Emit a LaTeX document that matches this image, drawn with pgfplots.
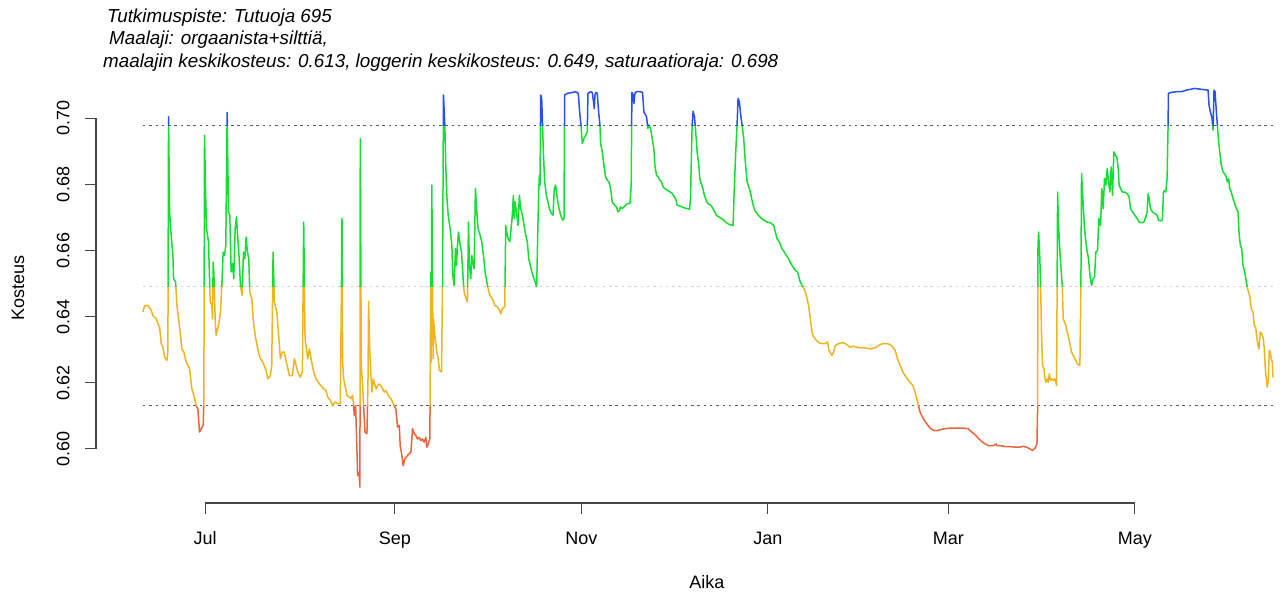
\documentclass[border=0pt]{standalone}
\usepackage{fontspec}
\setmainfont{Liberation Sans}
\usepackage{pgfplots}
\pgfplotsset{compat=1.18}
\usepackage{pgfplotstable}
\definecolor{cred}{RGB}{232,100,60}
\definecolor{corange}{RGB}{240,180,30}
\definecolor{cgreen}{RGB}{20,222,50}
\definecolor{cblue}{RGB}{40,80,240}
\definecolor{axgray}{RGB}{70,70,70}

\pgfplotstableread{
d v
-20.35 0.6414
-19.81 0.6432
-18.72 0.6434
-17.63 0.6419
-17.09 0.6403
-16.00 0.6393
-15.45 0.6378
-14.91 0.6368
-14.36 0.6318
-13.82 0.6307
-13.28 0.6277
-12.51 0.6267
-12.19 0.6292
-11.97 0.7005
-11.64 0.6717
-11.10 0.6646
-10.55 0.6585
-10.34 0.6515
-9.68 0.6505
-9.25 0.6434
-8.70 0.6393
-8.16 0.6353
-7.62 0.6302
-6.96 0.6292
-6.20 0.6262
-5.11 0.6242
-4.35 0.6181
-3.70 0.6161
-2.94 0.6130
-2.39 0.6120
-1.85 0.6050
-1.30 0.6060
-0.65 0.6070
-0.43 0.6141
-0.21 0.6949
0.11 0.6788
0.44 0.6666
1.09 0.6626
1.64 0.6444
2.18 0.6434
2.40 0.6393
2.62 0.6565
2.83 0.6535
3.27 0.6393
3.60 0.6343
4.36 0.6373
5.01 0.6414
5.45 0.6494
5.88 0.6595
6.32 0.6585
6.75 0.6616
7.19 0.7018
7.62 0.6717
8.06 0.6707
8.49 0.6535
8.93 0.6560
9.36 0.6515
9.80 0.6666
10.23 0.6702
10.67 0.6636
11.11 0.6575
11.54 0.6494
12.08 0.6464
12.52 0.6595
12.96 0.6575
13.39 0.6641
13.83 0.6595
14.26 0.6575
14.59 0.6474
15.24 0.6454
15.79 0.6383
16.55 0.6333
17.20 0.6302
17.85 0.6277
18.83 0.6262
19.92 0.6237
20.47 0.6211
21.34 0.6221
21.77 0.6252
22.21 0.6595
22.64 0.6444
23.40 0.6414
23.95 0.6353
24.60 0.6272
25.15 0.6292
25.91 0.6292
26.56 0.6262
27.54 0.6221
28.52 0.6221
29.17 0.6272
29.61 0.6257
30.26 0.6232
31.13 0.6216
31.79 0.6232
32.22 0.6686
32.66 0.6333
33.53 0.6272
34.07 0.6302
34.62 0.6272
35.49 0.6232
36.25 0.6211
37.34 0.6196
38.75 0.6181
39.51 0.6176
40.06 0.6156
40.93 0.6146
41.69 0.6130
42.45 0.6141
43.32 0.6136
44.19 0.6136
44.63 0.6555
44.74 0.6697
44.95 0.6262
45.28 0.6211
45.72 0.6191
46.37 0.6161
47.13 0.6156
47.68 0.6151
48.22 0.6161
48.55 0.6130
48.76 0.6100
49.20 0.6130
49.53 0.6029
49.85 0.5918
50.29 0.5928
50.61 0.5883
50.72 0.6939
51.05 0.6252
51.49 0.6191
51.81 0.6130
52.25 0.6050
52.90 0.6045
53.23 0.6191
53.44 0.6446
53.77 0.6312
54.21 0.6221
54.53 0.6171
54.97 0.6211
55.51 0.6191
55.95 0.6181
56.38 0.6191
56.93 0.6196
57.47 0.6191
58.02 0.6181
58.56 0.6171
59.10 0.6176
59.65 0.6166
60.19 0.6156
60.74 0.6151
61.28 0.6141
61.83 0.6130
62.37 0.6120
62.91 0.6065
63.46 0.6070
63.78 0.6009
64.33 0.5979
64.76 0.5948
65.31 0.5969
66.18 0.5979
67.27 0.5989
67.81 0.6060
68.36 0.6045
68.90 0.6040
69.44 0.6029
69.99 0.6034
70.53 0.6024
71.08 0.6029
71.62 0.6019
72.17 0.6034
72.49 0.6004
72.93 0.6014
73.47 0.6029
73.80 0.6535
73.91 0.6262
74.01 0.6535
74.12 0.6798
74.34 0.6494
74.56 0.6272
74.67 0.6393
75.10 0.6343
75.76 0.6292
76.19 0.6272
76.63 0.6237
77.28 0.6232
77.61 0.6494
77.93 0.7071
78.37 0.6980
78.70 0.6848
79.02 0.6767
79.46 0.6707
80.11 0.6666
80.66 0.6616
80.98 0.6525
81.42 0.6494
81.85 0.6606
82.18 0.6555
82.51 0.6616
82.83 0.6656
83.38 0.6616
83.81 0.6595
84.36 0.6515
84.68 0.6474
85.34 0.6454
85.77 0.6444
86.10 0.6686
86.42 0.6555
86.86 0.6515
87.19 0.6585
87.51 0.6565
87.95 0.6545
88.38 0.6788
88.82 0.6717
89.25 0.6666
89.91 0.6646
90.45 0.6626
91.00 0.6585
91.54 0.6535
92.30 0.6494
93.06 0.6464
93.93 0.6454
94.70 0.6434
95.57 0.6429
96.22 0.6419
96.66 0.6408
97.20 0.6424
97.96 0.6429
98.29 0.6676
98.61 0.6656
99.05 0.6636
99.59 0.6626
100.36 0.6697
100.79 0.6767
101.01 0.6697
101.33 0.6747
101.77 0.6717
102.31 0.6676
102.75 0.6767
103.19 0.6727
103.73 0.6707
104.27 0.6676
104.82 0.6646
105.36 0.6626
105.80 0.6575
106.45 0.6550
106.99 0.6530
107.54 0.6515
108.08 0.6499
108.41 0.6491
108.74 0.6646
109.06 0.6777
109.28 0.6828
109.50 0.6798
109.72 0.7071
110.04 0.7061
110.26 0.7000
110.59 0.6899
111.02 0.6808
111.57 0.6767
112.11 0.6747
112.55 0.6727
113.20 0.6712
113.74 0.6707
114.18 0.6788
114.61 0.6798
115.16 0.6757
115.70 0.6727
116.25 0.6707
116.90 0.6692
117.34 0.6697
117.55 0.7071
118.42 0.7076
120.06 0.7079
121.14 0.7081
122.02 0.7076
122.45 0.7020
122.89 0.6980
123.32 0.6924
123.87 0.6939
124.41 0.6949
124.95 0.6959
125.17 0.7076
126.04 0.7081
126.59 0.7079
126.91 0.7056
127.24 0.7030
127.46 0.7071
127.78 0.7079
128.22 0.7076
128.66 0.7020
129.09 0.6980
129.31 0.6924
129.85 0.6899
130.40 0.6858
130.94 0.6823
131.49 0.6813
132.03 0.6808
132.57 0.6788
133.12 0.6747
133.88 0.6737
134.53 0.6732
134.97 0.6717
135.51 0.6722
135.84 0.6732
136.38 0.6727
136.93 0.6732
137.47 0.6737
138.02 0.6742
138.89 0.6742
139.32 0.6798
139.54 0.7079
139.98 0.7071
140.19 0.7045
140.52 0.7076
141.06 0.7081
142.37 0.7081
143.02 0.7079
143.46 0.7020
143.78 0.7015
144.33 0.7005
144.76 0.6970
145.09 0.6980
145.63 0.6970
146.18 0.6939
146.72 0.6909
147.05 0.6858
147.59 0.6828
148.14 0.6823
148.68 0.6813
149.23 0.6808
149.77 0.6793
150.21 0.6788
151.08 0.6783
151.95 0.6778
152.82 0.6772
153.47 0.6762
154.02 0.6752
154.34 0.6737
155.21 0.6735
155.97 0.6732
156.74 0.6729
157.61 0.6727
158.37 0.6725
158.70 0.6757
158.91 0.6848
159.24 0.6980
159.57 0.7022
160.00 0.7005
160.33 0.6970
160.87 0.6899
161.42 0.6858
161.74 0.6818
162.18 0.6803
162.72 0.6788
163.27 0.6767
163.81 0.6752
164.35 0.6742
165.44 0.6737
166.31 0.6722
167.18 0.6707
167.95 0.6702
168.82 0.6697
169.58 0.6692
170.45 0.6684
171.54 0.6678
172.63 0.6676
173.06 0.6798
173.50 0.6899
173.93 0.6980
174.26 0.7061
174.69 0.7050
175.13 0.7010
175.57 0.6980
176.11 0.6939
176.55 0.6879
177.20 0.6808
177.96 0.6788
178.50 0.6767
179.05 0.6742
179.70 0.6722
180.46 0.6712
181.55 0.6700
182.64 0.6692
183.73 0.6686
184.82 0.6684
185.91 0.6676
186.45 0.6656
187.00 0.6636
187.76 0.6626
188.63 0.6606
189.39 0.6595
190.04 0.6585
190.80 0.6575
191.57 0.6560
192.22 0.6550
192.98 0.6540
193.74 0.6535
194.40 0.6510
195.16 0.6494
195.92 0.6484
196.57 0.6464
197.33 0.6434
197.88 0.6393
198.42 0.6353
198.97 0.6338
199.84 0.6328
200.60 0.6321
201.69 0.6318
202.78 0.6318
203.54 0.6323
203.97 0.6297
204.95 0.6282
205.50 0.6292
206.04 0.6312
207.13 0.6318
208.55 0.6321
209.85 0.6315
210.94 0.6307
212.03 0.6310
213.12 0.6307
214.21 0.6305
215.84 0.6305
217.47 0.6302
218.56 0.6304
219.65 0.6308
220.74 0.6315
221.83 0.6318
222.91 0.6318
224.00 0.6315
224.87 0.6307
225.64 0.6297
226.39 0.6272
227.27 0.6252
228.14 0.6232
228.90 0.6221
229.66 0.6211
230.53 0.6201
231.40 0.6191
232.16 0.6171
232.71 0.6151
233.25 0.6130
233.80 0.6110
234.34 0.6100
234.88 0.6090
235.97 0.6075
237.06 0.6062
238.15 0.6055
239.24 0.6054
240.33 0.6057
241.96 0.6060
243.59 0.6062
245.77 0.6062
247.95 0.6062
249.58 0.6060
250.67 0.6050
251.76 0.6042
252.84 0.6031
253.93 0.6021
255.02 0.6014
256.11 0.6009
257.74 0.6009
258.61 0.6014
258.83 0.6009
259.92 0.6009
261.55 0.6006
263.18 0.6006
264.82 0.6004
266.45 0.6004
267.54 0.6007
268.63 0.6004
269.71 0.5999
270.59 0.5994
271.35 0.6001
272.00 0.6014
272.22 0.6130
272.33 0.6606
272.54 0.6656
272.87 0.6595
273.20 0.6494
273.52 0.6333
273.85 0.6252
274.29 0.6242
274.61 0.6211
274.94 0.6201
275.37 0.6211
275.70 0.6201
276.03 0.6226
276.46 0.6206
276.90 0.6211
277.33 0.6206
277.88 0.6211
278.42 0.6191
278.75 0.6777
279.07 0.6676
279.51 0.6595
279.95 0.6535
280.27 0.6494
280.60 0.6393
281.03 0.6383
281.47 0.6373
281.90 0.6353
282.45 0.6333
282.89 0.6312
283.32 0.6292
283.86 0.6282
284.41 0.6272
284.95 0.6262
285.50 0.6254
286.04 0.6252
286.37 0.6494
286.58 0.6833
287.13 0.6737
287.56 0.6666
288.00 0.6626
288.43 0.6595
288.87 0.6575
289.31 0.6525
289.85 0.6494
290.39 0.6515
290.83 0.6520
291.26 0.6595
291.81 0.6601
292.24 0.6697
292.79 0.6676
293.22 0.6788
293.66 0.6727
294.09 0.6818
294.53 0.6798
294.97 0.6848
295.40 0.6808
295.84 0.6777
296.27 0.6853
296.71 0.6767
297.14 0.6899
297.58 0.6889
298.23 0.6879
298.56 0.6848
298.88 0.6798
299.32 0.6788
299.97 0.6777
300.73 0.6777
301.50 0.6772
302.15 0.6762
302.58 0.6727
303.24 0.6717
304.00 0.6707
304.76 0.6697
305.41 0.6686
306.18 0.6684
306.94 0.6686
307.59 0.6702
308.03 0.6717
308.35 0.6772
308.68 0.6757
309.12 0.6727
309.77 0.6717
310.53 0.6712
311.29 0.6707
311.73 0.6692
312.38 0.6690
313.03 0.6692
313.36 0.6777
313.79 0.6782
314.12 0.6777
314.56 0.6818
314.88 0.6980
314.99 0.7076
315.97 0.7079
317.61 0.7081
319.24 0.7081
320.87 0.7086
322.50 0.7089
323.59 0.7091
325.22 0.7089
326.86 0.7087
327.95 0.7086
328.27 0.7040
328.71 0.7020
329.25 0.7000
329.58 0.6965
329.90 0.7086
330.23 0.7081
330.67 0.7020
330.99 0.6980
331.32 0.6939
331.75 0.6899
332.30 0.6858
332.84 0.6838
333.71 0.6828
334.26 0.6808
334.69 0.6818
335.02 0.6788
335.56 0.6777
336.11 0.6757
336.65 0.6742
337.20 0.6727
337.74 0.6717
338.07 0.6656
338.50 0.6616
338.94 0.6606
339.37 0.6555
339.92 0.6535
340.46 0.6505
341.01 0.6479
341.55 0.6464
342.09 0.6424
342.64 0.6414
343.07 0.6373
343.51 0.6368
343.94 0.6333
344.27 0.6312
344.60 0.6302
345.03 0.6353
345.58 0.6348
346.01 0.6333
346.34 0.6302
346.67 0.6242
346.99 0.6211
347.32 0.6186
347.65 0.6211
347.97 0.6297
348.30 0.6292
348.63 0.6272
348.95 0.6262
349.17 0.6216
}\moist

\pgfplotstableread{
d v
-20.35 0.613
349.17 0.613
}\lowline
\pgfplotstableread{
d v
-20.35 0.649
349.17 0.649
}\midline
\pgfplotstableread{
d v
-20.35 0.698
349.17 0.698
}\highline

\pgfplotsset{
  frame/.style={
    at={(96pt,91pt)}, anchor=south west,
    scale only axis, width=1222pt, height=430.4pt,
    xmin=-35.7, xmax=363.9, ymin=0.5835, ymax=0.7139,
    clip=false},
}

\newcommand{\bandaxis}[3]{%
  \begin{axis}[frame, hide axis]
  \addplot[color=#1, line width=1.5pt, line join=round,
    execute at begin plot visualization={\clip (axis cs:-40,#2) rectangle (axis cs:370,#3);}]
    table[x=d,y=v]{\moist};
  \end{axis}}

\begin{document}
\begin{tikzpicture}[font=\fontsize{18pt}{22.5pt}\selectfont]
\path[use as bounding box] (0,0) rectangle (1284pt,594pt);
\node[anchor=base west, inner sep=0pt, font=\fontsize{18.8pt}{22.5pt}\selectfont\itshape] at (107pt,571.5pt) {Tutkimuspiste: Tutuoja 695};
\node[anchor=base west, inner sep=0pt, font=\fontsize{18.8pt}{22.5pt}\selectfont\itshape] at (109pt,549pt) {Maalaji: orgaanista+silttiä,};
\node[anchor=base west, inner sep=0pt, font=\fontsize{18.8pt}{22.5pt}\selectfont\itshape] at (103pt,526.5pt) {maalajin keskikosteus: 0.613, loggerin keskikosteus: 0.649, saturaatioraja: 0.698};
\begin{axis}[
  frame,
  axis line style={draw=none},
  tick pos=left, tick align=outside,
  major tick length=11pt,
  tick style={axgray, line width=1.2pt},
  xtick={0,62,123,184,243,304},
  xticklabels={Jul,Sep,Nov,Jan,Mar,May},
  ytick={0.60,0.62,0.64,0.66,0.68,0.70},
  yticklabels={0.60,0.62,0.64,0.66,0.68,0.70},
  xticklabel style={anchor=base, inner sep=0pt, yshift=-31pt},
  yticklabel style={xshift=-15.5pt, rotate=90, anchor=base, inner sep=0pt},
  xlabel={Aika}, ylabel={Kosteus},
  every axis x label/.style={at={(axis description cs:0.5,0)}, anchor=center, inner sep=0pt, yshift=-79pt},
  every axis y label/.style={at={(axis description cs:0,0.5)}, xshift=-78pt, rotate=90, anchor=center, inner sep=0pt},
]
\addplot[color=black!65, line width=1pt, dash pattern=on 2.5pt off 3.8pt] table[x=d,y=v]{\lowline};
\addplot[color=black!18, line width=1pt, dash pattern=on 2.5pt off 3.8pt] table[x=d,y=v]{\midline};
\addplot[color=black!65, line width=1pt, dash pattern=on 2.5pt off 3.8pt] table[x=d,y=v]{\highline};
\draw[axgray, line width=1.2pt] (axis cs:0,0.5835) -- (axis cs:304,0.5835);
\draw[axgray, line width=1.2pt] (axis cs:-35.7,0.60) -- (axis cs:-35.7,0.70);
\end{axis}
\bandaxis{cred}{0.50}{0.613}
\bandaxis{corange}{0.613}{0.649}
\bandaxis{cgreen}{0.649}{0.698}
\bandaxis{cblue}{0.698}{0.80}
\end{tikzpicture}
\end{document}
